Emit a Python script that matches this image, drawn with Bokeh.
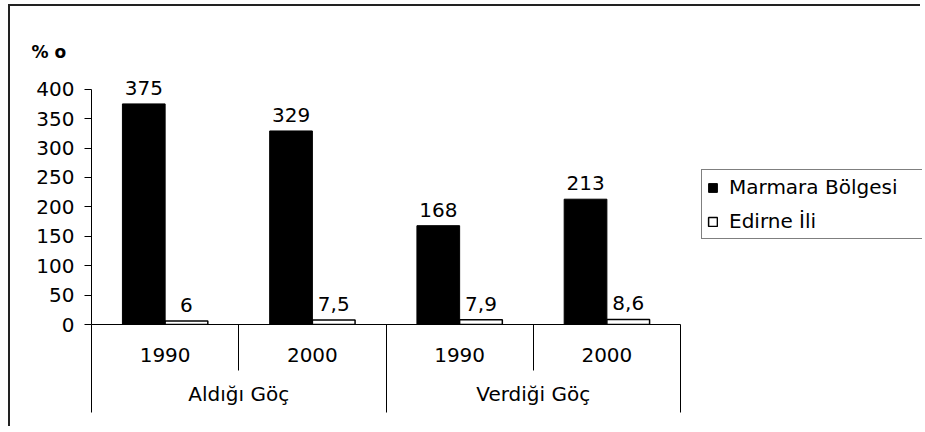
from bokeh.plotting import figure
from bokeh.models import (Range1d, LinearAxis, FixedTicker, ColumnDataSource,
                          Legend, LegendItem, Title)
from bokeh.core.properties import value
from bokeh.embed import file_html
from bokeh.resources import INLINE

# ---- data ----
groups = ["Aldığı Göç", "Verdiği Göç"]
years = ["1990", "2000", "1990", "2000"]
marmara = [375, 329, 168, 213]
edirne = [6, 7.5, 7.9, 8.6]
series_names = ["Marmara Bölgesi", "Edirne İli"]
y_ticks = [0, 50, 100, 150, 200, 250, 300, 350, 400]
unit_label = "% o"

# ---- layout constants ----
OFF_X, OFF_Y = 10, 6          # canvas origin on the page (margin + border)
W, H = 925 - OFF_X - 3, 432 - OFF_Y - 4
FONT = "DejaVu Sans"
FS = "20px"
FRAME_L, CAT_R, FRAME_T, FRAME_B = 91, 680, 62, 324   # page pixels
Y_MAX = 400 * (FRAME_B - FRAME_T) / 235.3

n = len(years)
per_group = n // len(groups)
px_per_cat = (CAT_R - FRAME_L) / n
X_MAX = (W + OFF_X - FRAME_L) / px_per_cat   # frame runs to the right edge


def fmt(v):
    return str(int(v)) if float(v).is_integer() else str(v).replace(".", ",")


centers = [i + 0.5 for i in range(n)]
bw = 0.29
src_m = ColumnDataSource(dict(x=[c - bw / 2 for c in centers], top=marmara,
                              lab=[fmt(v) for v in marmara]))
src_e = ColumnDataSource(dict(x=[c + bw / 2 for c in centers], top=edirne,
                              lab=[fmt(v) for v in edirne]))

p = figure(width=W, height=H, output_backend="svg", toolbar_location=None,
           x_range=Range1d(0, X_MAX), y_range=Range1d(0, Y_MAX),
           x_axis_location=None, y_axis_location=None,
           min_border_left=FRAME_L - OFF_X, min_border_right=0,
           min_border_top=FRAME_T - OFF_Y, min_border_bottom=H - (FRAME_B - OFF_Y))
p.outline_line_color = None
p.grid.visible = False
p.background_fill_color = "white"
p.border_fill_color = "white"
p.styles = {"border-top": "2px solid #222222", "border-left": "2px solid #222222",
            "margin-top": "4px", "margin-left": "8px"}

# y axis
yax = LinearAxis(ticker=FixedTicker(ticks=y_ticks), bounds=(0, 400))
yax.major_tick_out = 7
yax.major_tick_in = 0
yax.minor_tick_line_color = None
yax.major_label_text_font = FONT
yax.major_label_text_font_size = FS
yax.major_label_text_color = "black"
yax.major_label_standoff = 10
yax.axis_line_color = "black"
yax.major_tick_line_color = "black"
p.add_layout(yax, "left")

# x axis 1: years, short separators between all categories
ax1 = LinearAxis(ticker=FixedTicker(ticks=centers, minor_ticks=list(range(n + 1))),
                 bounds=(0, n))
ax1.major_label_overrides = {c: y for c, y in zip(centers, years)}
ax1.major_tick_line_color = None
ax1.major_tick_out = 0
ax1.major_tick_in = 0
ax1.minor_tick_line_color = "black"
ax1.minor_tick_out = 46
ax1.minor_tick_in = 0
ax1.axis_line_color = "black"
ax1.major_label_text_font = FONT
ax1.major_label_text_font_size = FS
ax1.major_label_text_color = "black"
ax1.major_label_standoff = -23
p.add_layout(ax1, "below")

# x axis 2: groups, long separators between groups
gcenters = [g * per_group + per_group / 2 for g in range(len(groups))]
gbounds = [g * per_group for g in range(len(groups) + 1)]
ax2 = LinearAxis(ticker=FixedTicker(ticks=gcenters, minor_ticks=gbounds),
                 bounds=(0, n))
ax2.major_label_overrides = {c: g for c, g in zip(gcenters, groups)}
ax2.major_tick_line_color = None
ax2.major_tick_out = 0
ax2.major_tick_in = 0
ax2.minor_tick_line_color = "black"
ax2.minor_tick_out = 48
ax2.minor_tick_in = 10
ax2.axis_line_color = None
ax2.major_label_text_font = FONT
ax2.major_label_text_font_size = FS
ax2.major_label_text_color = "black"
ax2.major_label_standoff = -31
p.add_layout(ax2, "below")

# bars
r1 = p.vbar(x="x", top="top", width=bw, source=src_m, fill_color="black",
            line_color="black", line_width=1)
r2 = p.vbar(x="x", top="top", width=bw, source=src_e, fill_color="white",
            line_color="black", line_width=1.5)

for src in (src_m, src_e):
    p.text(x="x", y="top", text="lab", source=src, text_align="center",
           text_baseline="alphabetic", y_offset=-16,
           text_font=value(FONT), text_font_size=FS, text_color="black")

# legend (inside the frame, right of the categories; cut at the right edge)
legend = Legend(items=[LegendItem(label=series_names[0], renderers=[r1]),
                       LegendItem(label=series_names[1], renderers=[r2])],
                location=(701 - FRAME_L, FRAME_B - 239))
legend.label_text_font = FONT
legend.label_text_font_size = FS
legend.label_text_color = "black"
legend.glyph_width = 11
legend.glyph_height = 11
legend.label_height = 20
legend.label_width = 225
legend.label_standoff = 11
legend.spacing = 10
legend.padding = 5
legend.margin = 0
legend.border_line_color = "black"
legend.border_line_width = 1.5
legend.background_fill_color = "white"
legend.background_fill_alpha = 1
p.add_layout(legend)

# unit label
t = Title(text=unit_label, align="left", offset=-60, text_font="DejaVu Sans",
          text_font_size="17px", text_font_style="bold", text_color="black",
          standoff=1)
p.add_layout(t, "above")

open("out.html", "w").write(file_html(p, INLINE))
